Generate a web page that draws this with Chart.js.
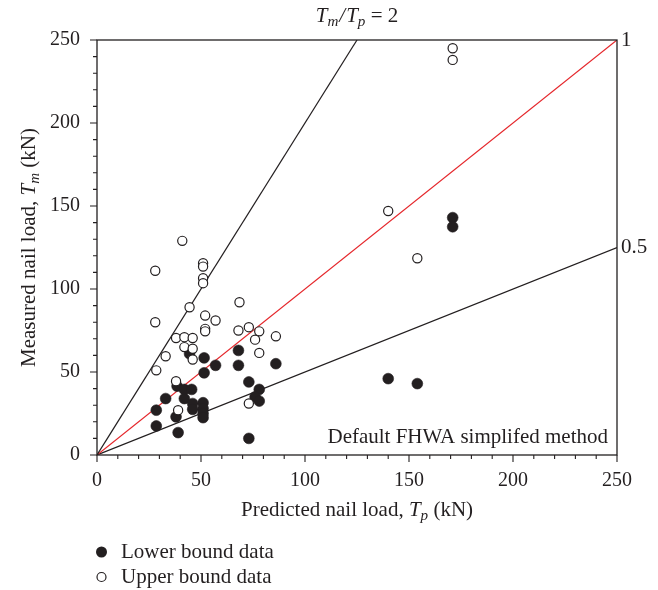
<!DOCTYPE html>
<html>
<head>
<meta charset="utf-8">
<script src="https://cdn.jsdelivr.net/npm/chart.js@4/dist/chart.umd.min.js"></script>
<style>
  html, body { margin: 0; padding: 0; background: #fff; }
  canvas { display: block; }
</style>
</head>
<body>
<canvas id="chart" width="658" height="590"></canvas>
<script>
// measured vs predicted nail loads (kN)
const lowerX = [28.5, 28.5, 33, 38.5, 42, 45.5, 42, 46, 46, 51, 51, 51, 51, 38, 39, 44.5, 51.5, 51.5, 57, 68, 68, 73, 78, 76, 78, 73, 86, 140, 154, 171, 171];
const lowerY = [27, 17.5, 34, 41.5, 39.5, 39.5, 34, 31, 27.5, 31.5, 28, 25, 22.5, 23, 13.5, 61, 58.5, 49.5, 54, 63, 54, 44, 39.5, 35, 32.5, 10, 55, 46, 43, 143, 137.5];

const upperX = [28, 41, 51, 51, 51, 51, 44.5, 28, 52, 57, 52, 52, 68.5, 68, 73, 78, 76, 86, 78, 38, 42, 46, 42, 46, 46, 33, 28.5, 38, 39, 73, 140, 154, 171, 171];
const upperY = [111, 129, 115.5, 113.5, 106.5, 103.5, 89, 80, 84, 81, 76, 74.5, 92, 75, 77, 74.5, 69.5, 71.5, 61.5, 70.5, 71, 70.5, 65, 64, 57.5, 59.5, 51, 44.5, 27, 31, 147, 118.5, 245, 238];

// Tm/Tp reference lines
const ratios = [2, 1, 0.5];
const ratioLabels = ["", "1", "0.5"];
const ratioColors = ["#231f20", "#e5262b", "#231f20"];

const axisMax = 250;
const majorStep = 50;
const minorStep = 10;

const INK = "#231f20";
const FONT = "'Liberation Serif', 'Times New Roman', serif";
const TXT = 21;

function pts(xs, ys) {
    return xs.map((x, i) => ({ x: x, y: ys[i] }));
}

const lineSets = ratios.map((r, i) => {
    const xEnd = Math.min(axisMax, axisMax / r);
    return {
        label: "ratio " + r,
        data: [{ x: 0, y: 0 }, { x: xEnd, y: xEnd * r }],
        showLine: true,
        borderColor: ratioColors[i],
        borderWidth: 1.2,
        pointRadius: 0,
        pointHoverRadius: 0,
        order: 2
    };
});

// text with italic / subscript pieces
function richText(ctx, parts, x, y, align, size) {
    let w = 0;
    parts.forEach(p => {
        const s = p.sub ? size * 0.72 : size;
        ctx.font = (p.it ? "italic " : "") + s + "px " + FONT;
        p.w = ctx.measureText(p.t).width + (p.gap || 0);
        w += p.w;
    });
    let cx = align === "center" ? x - w / 2 : (align === "right" ? x - w : x);
    parts.forEach(p => {
        const s = p.sub ? size * 0.72 : size;
        ctx.font = (p.it ? "italic " : "") + s + "px " + FONT;
        ctx.fillText(p.t, cx, y + (p.sub ? size * 0.3 : 0));
        cx += p.w;
    });
}

const decor = {
    id: "decor",
    afterDraw(chart) {
        const ctx = chart.ctx;
        const a = chart.chartArea;
        const xs = chart.scales.x, ys = chart.scales.y;
        ctx.save();
        ctx.strokeStyle = INK;
        ctx.fillStyle = INK;
        ctx.lineWidth = 1.3;
        ctx.strokeRect(a.left, a.top, a.right - a.left, a.bottom - a.top);

        ctx.lineWidth = 1.1;
        ctx.beginPath();
        for (let v = 0; v <= axisMax; v += minorStep) {
            const len = v % majorStep === 0 ? 7 : 4;
            const px = xs.getPixelForValue(v);
            ctx.moveTo(px, a.bottom);
            ctx.lineTo(px, a.bottom + len);
            const py = ys.getPixelForValue(v);
            ctx.moveTo(a.left, py);
            ctx.lineTo(a.left - len, py);
        }
        ctx.stroke();

        ctx.textBaseline = "middle";
        // axis titles
        richText(ctx, [{ t: "Predicted nail load, " }, { t: "T", it: true }, { t: "p", it: true, sub: true }, { t: " (kN)" }],
            (a.left + a.right) / 2, 510, "center", TXT);
        ctx.save();
        ctx.translate(29, (a.top + a.bottom) / 2);
        ctx.rotate(-Math.PI / 2);
        richText(ctx, [{ t: "Measured nail load, " }, { t: "T", it: true }, { t: "m", it: true, sub: true }, { t: " (kN)" }],
            0, 0, "center", TXT);
        ctx.restore();

        // ratio line labels
        ratios.forEach((r, i) => {
            if (!ratioLabels[i]) return;
            const yEnd = Math.min(axisMax, axisMax * r);
            ctx.font = TXT + "px " + FONT;
            ctx.textAlign = "left";
            ctx.fillText(ratioLabels[i], a.right + 4, ys.getPixelForValue(yEnd));
        });
        richText(ctx, [{ t: "T", it: true }, { t: "m", it: true, sub: true, gap: 1 }, { t: "/", it: true, gap: 1 }, { t: "T", it: true }, { t: "p", it: true, sub: true }, { t: " = 2" }],
            xs.getPixelForValue(axisMax / ratios[0]), 16, "center", TXT);

        ctx.textAlign = "left";
        richText(ctx, [{ t: "Default FHWA simplifed method" }], a.right - 9, 437, "right", TXT);

        // legend
        ctx.beginPath();
        ctx.arc(101.5, 552, 5.5, 0, Math.PI * 2);
        ctx.fill();
        ctx.beginPath();
        ctx.arc(101.5, 577, 4.5, 0, Math.PI * 2);
        ctx.lineWidth = 1.2;
        ctx.stroke();
        ctx.font = TXT + "px " + FONT;
        ctx.fillText("Lower bound data", 121, 552);
        ctx.fillText("Upper bound data", 121, 577);
        ctx.restore();
    }
};

new Chart(document.getElementById("chart"), {
    type: "scatter",
    data: {
        datasets: [
            {
                label: "Upper bound data",
                data: pts(upperX, upperY),
                pointRadius: 4.6,
                pointBackgroundColor: "#fff",
                pointBorderColor: INK,
                pointBorderWidth: 1.2,
                order: 0
            },
            {
                label: "Lower bound data",
                data: pts(lowerX, lowerY),
                pointRadius: 5.4,
                pointBackgroundColor: INK,
                pointBorderColor: INK,
                pointBorderWidth: 0.6,
                order: 1
            },
            ...lineSets
        ]
    },
    options: {
        responsive: false,
        animation: false,
        devicePixelRatio: 1,
        layout: { padding: { left: 0, top: 40, right: 41, bottom: 0 } },
        plugins: { legend: { display: false }, tooltip: { enabled: false } },
        scales: {
            x: {
                type: "linear",
                min: 0, max: axisMax,
                grid: { display: false },
                border: { display: false },
                ticks: { stepSize: majorStep, color: INK, font: { family: FONT, size: 20 }, padding: 6, maxRotation: 0 },
                afterFit: s => { s.height = 135; }
            },
            y: {
                type: "linear",
                min: 0, max: axisMax,
                grid: { display: false },
                border: { display: false },
                ticks: { stepSize: majorStep, color: INK, font: { family: FONT, size: 20 }, padding: 9 },
                afterFit: s => { s.width = 97; }
            }
        }
    },
    plugins: [decor]
});
</script>
</body>
</html>
